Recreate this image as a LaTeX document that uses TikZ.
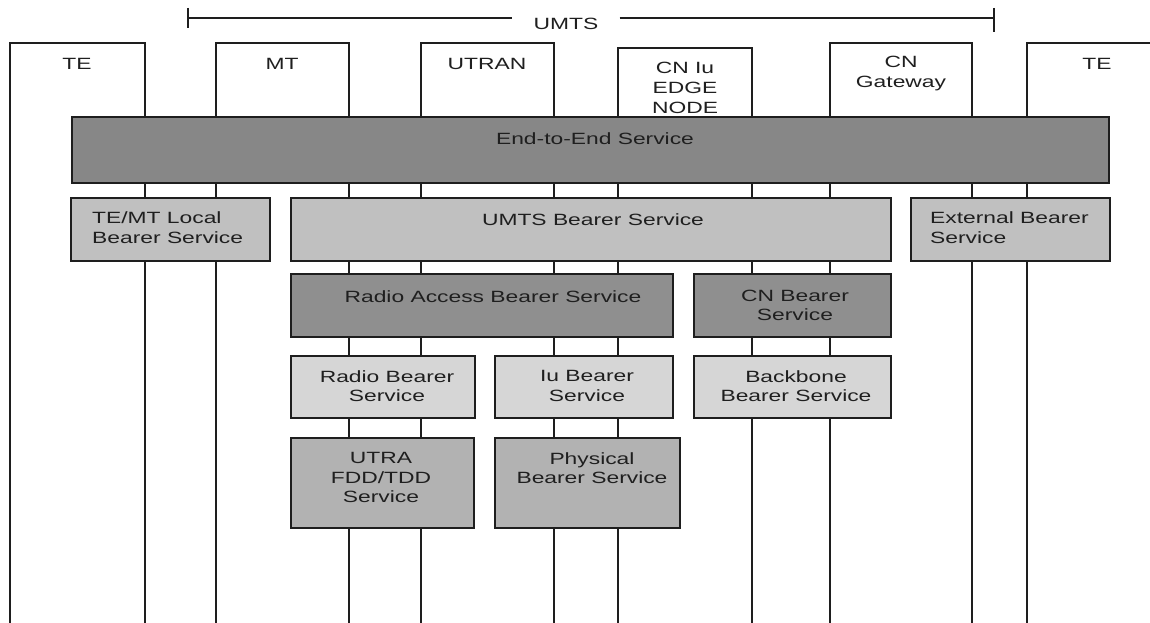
\documentclass[tikz,border=0pt]{standalone}
\usepackage{fontspec}
\setmainfont{Liberation Sans}[FakeStretch=1.4]
\definecolor{eegray}{HTML}{878787}
\definecolor{lightgray2}{HTML}{C0C0C0}
\definecolor{midgray}{HTML}{8F8F8F}
\definecolor{palegray}{HTML}{D6D6D6}
\definecolor{bgray}{HTML}{B2B2B2}
\definecolor{inkgray}{HTML}{1E1E1E}
\begin{document}
\begin{tikzpicture}[x=1pt,y=-1pt,
  colline/.style={line width=1.3pt, draw=inkgray},
  thickline/.style={line width=2.8pt, draw=inkgray},
  box/.style={draw=inkgray, line width=1.3pt, inner sep=0pt, outer sep=0pt, anchor=north west},
  txt/.style={font=\fontsize{16.3}{19.7}\selectfont, inner sep=0pt, anchor=north, align=center, text=black!88},
  ltxt/.style={txt, anchor=north west, align=left},
]
\useasboundingbox (0,0) rectangle (1150,623);

% ---- UMTS bracket ----
\node[txt] (umts) at (566,18.3) {UMTS};
\coordinate (uL) at (188,18);
\coordinate (uR) at (994,18);
\draw[line width=1.2pt, draw=inkgray] (uL) -- ([xshift=-21pt]umts.west |- uL);
\draw[line width=1.2pt, draw=inkgray] ([xshift=21pt]umts.east |- uR) -- (uR);
\draw[line width=1.2pt, draw=inkgray] ([yshift=10pt]uL) -- ([yshift=-10pt]uL);
\draw[line width=2.6pt, draw=inkgray] ([yshift=10pt]uR) -- ([yshift=-14pt]uR);

% ---- columns (open at the bottom) ----
\coordinate (teLa) at (10,43);   \coordinate (teLb) at (145,43);
\coordinate (mtA) at (216,43);   \coordinate (mtB) at (349,43);
\coordinate (utA) at (421,43);   \coordinate (utB) at (554,43);
\coordinate (cnA) at (618,48);   \coordinate (cnB) at (752,48);
\coordinate (gwA) at (830,43);   \coordinate (gwB) at (972,43);
\coordinate (teRa) at (1027,43); \coordinate (teRb) at (1150,43);

\draw[colline] (teLa |- 0,623) -- (teLa) -- (teLb) -- (teLb |- 0,623);
\draw[colline] (mtA |- 0,623) -- (mtA) -- (mtB) -- (mtB |- 0,623);
\draw[colline] (utA |- 0,623) -- (utA) -- (utB) -- (utB |- 0,623);
\draw[colline] (cnA |- 0,623) -- (cnA) -- (cnB) -- (cnB |- 0,623);
\draw[colline] (gwA |- 0,623) -- (gwA) -- (gwB) -- (gwB |- 0,623);
\draw[colline] (teRa |- 0,623) -- (teRa) -- (teRb);
\draw[thickline] (mtA) -- (mtA |- 0,623);
\draw[thickline] (utB) -- (utB |- 0,623);

\node[txt] (teL) at (77,58.3) {TE};
\node[txt] (mt) at (282,58.3) {MT};
\node[txt] (utran) at (487,58.3) {UTRAN};
\node[txt] (cniu) at (685,62.3) {CN Iu\\EDGE\\NODE};
\node[txt] (cngw) at (901,56.3) {CN\\Gateway};
\node[txt] (teR) at (1097,58.3) {TE};

% ---- service boxes ----
\node[box, fill=eegray, minimum width=1037pt, minimum height=66pt] (ee) at (72,117) {};
\draw[line width=2.6pt, draw=inkgray] (ee.north east) -- (ee.south east);
\draw[line width=2pt, draw=inkgray] (ee.south west) -- (ee.south east);
\node[txt] (eet) at (595,132.5) {End-to-End Service};

\node[box, fill=lightgray2, minimum width=199pt, minimum height=63pt] (tml) at (71,198) {};
\draw[line width=2.6pt, draw=inkgray] (tml.north west) -- (tml.south west);
\node[ltxt] (tmlt) at (92,211.3) {TE/MT Local\\Bearer Service};

\node[box, fill=lightgray2, minimum width=600pt, minimum height=63pt] (ubs) at (291,198) {};
\node[txt] (ubst) at (593,213) {UMTS Bearer Service};

\node[box, fill=lightgray2, minimum width=199pt, minimum height=63pt] (ext) at (911,198) {};
\draw[line width=2.6pt, draw=inkgray] (ext.north east) -- (ext.south east);
\node[ltxt] (extt) at (930,211.3) {External Bearer\\Service};

\node[box, fill=midgray, minimum width=382pt, minimum height=63pt] (rab) at (291,274) {};
\node[txt] (rabt) at (493,290) {Radio Access Bearer Service};

\node[box, fill=midgray, minimum width=197pt, minimum height=63pt] (cnb) at (694,274) {};
\node[txt] (cnbt) at (795,289.5) {CN Bearer\\Service};

\node[box, fill=palegray, minimum width=184pt, minimum height=62pt] (rbs) at (291,356) {};
\node[txt] (rbst) at (387,370) {Radio Bearer\\Service};

\node[box, fill=palegray, minimum width=178pt, minimum height=62pt] (iub) at (495,356) {};
\node[txt] (iubt) at (587,370) {Iu Bearer\\Service};

\node[box, fill=palegray, minimum width=197pt, minimum height=62pt] (bbs) at (694,356) {};
\node[txt] (bbst) at (796,370) {Backbone\\Bearer Service};

\node[box, fill=bgray, minimum width=183pt, minimum height=90pt] (utra) at (291,438) {};
\node[txt] (utrat) at (381,452) {UTRA\\FDD/TDD\\Service};

\node[box, fill=bgray, minimum width=185pt, minimum height=90pt] (phy) at (495,438) {};
\draw[line width=2.6pt, draw=inkgray] (phy.north east) -- (phy.south east);
\node[txt] (phyt) at (592,452) {Physical\\Bearer Service};
\end{tikzpicture}
\end{document}
